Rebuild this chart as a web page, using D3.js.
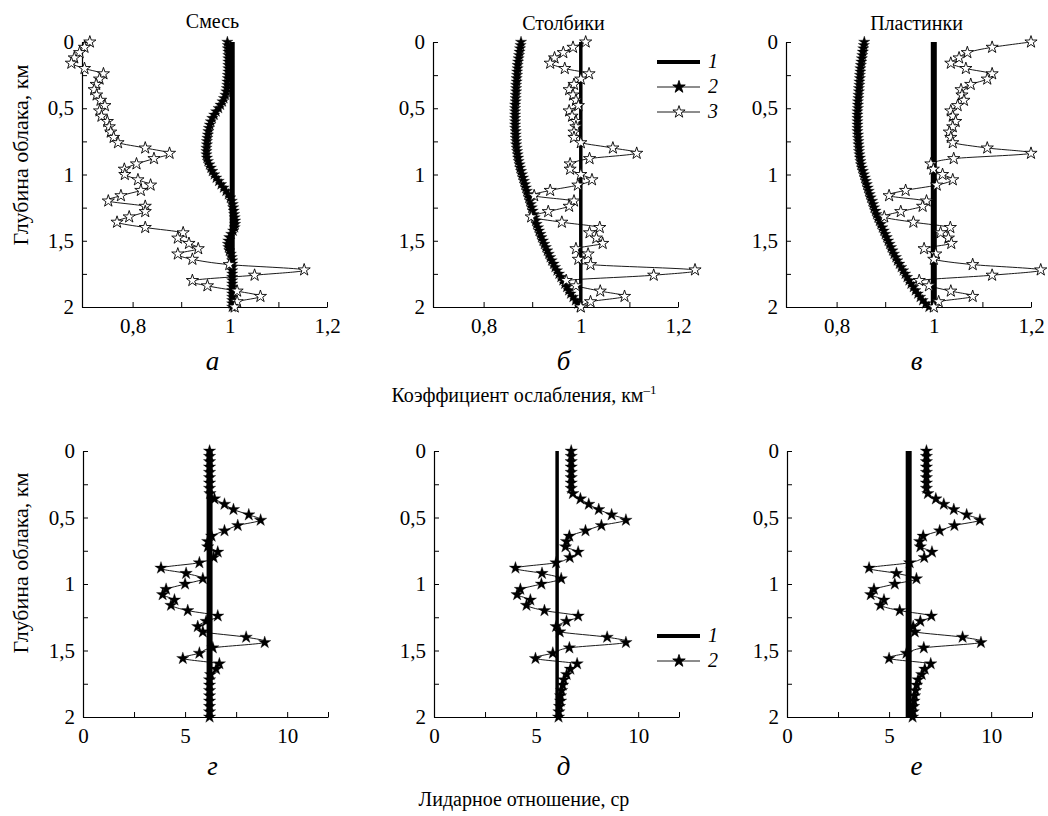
<!DOCTYPE html>
<html>
<head>
<meta charset="utf-8">
<script src="https://cdn.jsdelivr.net/npm/d3@7"></script>
<style>
  body { margin: 0; background: #fff; }
  text { font-family: "Liberation Serif", "Times New Roman", serif; fill: #000; }
</style>
</head>
<body>
<svg id="chart" width="1048" height="816"></svg>
<script>
// depth grids (km)
var depthSparse = [0, 0.04, 0.08, 0.12, 0.16, 0.2, 0.24, 0.28, 0.32, 0.36, 0.4, 0.44, 0.48, 0.52, 0.56, 0.6,
    0.64, 0.68, 0.72, 0.76, 0.8, 0.84, 0.88, 0.92, 0.96, 1, 1.04, 1.08, 1.12, 1.16, 1.2, 1.24, 1.28, 1.32,
    1.36, 1.4, 1.44, 1.48, 1.52, 1.56, 1.6, 1.64, 1.68, 1.72, 1.76, 1.8, 1.84, 1.88, 1.92, 1.96, 2]
var depthDense = [0, 0.025, 0.05, 0.075, 0.1, 0.125, 0.15, 0.175, 0.2, 0.225, 0.25, 0.275, 0.3, 0.325, 0.35,
    0.375, 0.4, 0.425, 0.45, 0.475, 0.5, 0.525, 0.55, 0.575, 0.6, 0.625, 0.65, 0.675, 0.7, 0.725, 0.75, 0.775,
    0.8, 0.825, 0.85, 0.875, 0.9, 0.925, 0.95, 0.975, 1, 1.025, 1.05, 1.075, 1.1, 1.125, 1.15, 1.175, 1.2,
    1.225, 1.25, 1.275, 1.3, 1.325, 1.35, 1.375, 1.4, 1.425, 1.45, 1.475, 1.5, 1.525, 1.55, 1.575, 1.6, 1.625,
    1.65, 1.675, 1.7, 1.725, 1.75, 1.775, 1.8, 1.825, 1.85, 1.875, 1.9, 1.925, 1.95, 1.975, 2]

// extinction coefficient, series 1 (constant)
var ext1 = [1.005, 1.0, 1.0]

// extinction coefficient, series 2 (dense)
var extMix2 = [0.995, 0.996, 0.996, 0.997, 0.997, 0.997, 0.997, 0.997, 0.997, 0.997, 0.996, 0.996, 0.995,
    0.995, 0.994, 0.993, 0.991, 0.988, 0.985, 0.981, 0.977, 0.972, 0.968, 0.964, 0.961, 0.959, 0.957, 0.956,
    0.955, 0.954, 0.953, 0.953, 0.952, 0.952, 0.952, 0.953, 0.955, 0.958, 0.961, 0.964, 0.968, 0.972, 0.977,
    0.982, 0.987, 0.992, 0.997, 1.001, 1.004, 1.006, 1.007, 1.008, 1.009, 1.01, 1.011, 1.011, 1.01, 1.007,
    1.003, 0.999, 0.997, 0.996, 0.997, 0.999, 1.002, 1.004, 1.005, 1.005, 1.005, 1.005, 1.005, 1.005, 1.005,
    1.005, 1.005, 1.005, 1.005, 1.005, 1.005, 1.005, 1.005]
var extCol2 = [0.877, 0.876, 0.875, 0.874, 0.873, 0.872, 0.871, 0.870, 0.870, 0.869, 0.869, 0.868, 0.868,
    0.867, 0.867, 0.867, 0.866, 0.866, 0.866, 0.865, 0.865, 0.865, 0.865, 0.865, 0.865, 0.865, 0.865, 0.866,
    0.866, 0.866, 0.867, 0.867, 0.868, 0.869, 0.870, 0.871, 0.872, 0.874, 0.875, 0.877, 0.879, 0.881, 0.883,
    0.885, 0.887, 0.889, 0.891, 0.893, 0.895, 0.897, 0.899, 0.901, 0.903, 0.905, 0.907, 0.909, 0.912, 0.914,
    0.917, 0.919, 0.922, 0.925, 0.928, 0.931, 0.934, 0.937, 0.94, 0.944, 0.947, 0.951, 0.955, 0.959, 0.963,
    0.967, 0.971, 0.975, 0.979, 0.984, 0.989, 0.994, 0.999]
var extPlate2 = [0.857, 0.856, 0.855, 0.854, 0.853, 0.852, 0.851, 0.850, 0.849, 0.849, 0.848, 0.848, 0.847,
    0.847, 0.846, 0.846, 0.845, 0.845, 0.844, 0.844, 0.844, 0.843, 0.843, 0.843, 0.843, 0.843, 0.843, 0.843,
    0.844, 0.844, 0.845, 0.845, 0.846, 0.846, 0.847, 0.848, 0.849, 0.850, 0.852, 0.854, 0.856, 0.858, 0.860,
    0.862, 0.864, 0.866, 0.868, 0.870, 0.873, 0.875, 0.877, 0.880, 0.882, 0.885, 0.888, 0.891, 0.894, 0.897,
    0.900, 0.903, 0.906, 0.909, 0.912, 0.915, 0.918, 0.922, 0.925, 0.929, 0.933, 0.937, 0.941, 0.945, 0.949,
    0.953, 0.958, 0.962, 0.967, 0.972, 0.977, 0.983, 0.990]

// extinction coefficient, series 3 (sparse)
var extMix3 = [0.712, 0.701, 0.691, 0.680, 0.674, 0.701, 0.740, 0.732, 0.725, 0.721, 0.726, 0.734, 0.743,
    0.732, 0.736, 0.748, 0.752, 0.755, 0.761, 0.770, 0.826, 0.876, 0.844, 0.808, 0.783, 0.784, 0.811, 0.837,
    0.817, 0.776, 0.750, 0.826, 0.826, 0.793, 0.768, 0.826, 0.904, 0.893, 0.916, 0.935, 0.893, 0.923, 0.999,
    1.153, 1.051, 0.923, 0.954, 1.015, 1.063, 1.015, 1.01]
var extCol3 = [1.01, 0.984, 0.964, 0.946, 0.937, 0.967, 1.017, 1.0, 0.986, 0.976, 0.984, 0.99, 0.995, 0.976,
    0.982, 0.99, 0.99, 0.986, 0.986, 1.0, 1.066, 1.115, 1.018, 0.978, 0.978, 1.0, 1.023, 0.994, 0.937, 0.904,
    0.986, 0.976, 0.933, 0.898, 0.961, 1.039, 1.018, 1.032, 1.045, 0.99, 1.015, 0.995, 1.02, 1.235, 1.15, 0.97,
    0.99, 1.04, 1.09, 1.02, 1.0]
var extPlate3 = [1.2, 1.12, 1.069, 1.052, 1.035, 1.066, 1.12, 1.11, 1.076, 1.056, 1.058, 1.062, 1.049, 1.035,
    1.039, 1.045, 1.039, 1.032, 1.035, 1.039, 1.11, 1.2, 1.041, 0.994, 0.999, 1.018, 1.039, 1.006, 0.942, 0.908,
    0.985, 0.977, 0.932, 0.898, 0.958, 1.034, 1.014, 1.03, 1.036, 0.98, 1.004, 1.0, 1.08, 1.22, 1.12, 0.97,
    0.99, 1.035, 1.08, 1.01, 1.0]

// lidar ratio, series 1 (constant)
var lid1 = [6.2, 6.03, 5.96]

// lidar ratio, series 2
var lidMix2 = [6.2, 6.2, 6.2, 6.2, 6.2, 6.2, 6.2, 6.2, 6.22, 6.44, 6.93, 7.37, 8.12, 8.7, 7.58, 6.93, 6.3,
    6.11, 6.11, 6.6, 6.4, 5.7, 3.82, 5.05, 5.87, 5.0, 4.07, 3.9, 4.48, 4.31, 5.13, 6.6, 6.03, 5.62, 5.87, 7.99,
    8.9, 6.36, 5.7, 4.89, 6.68, 6.52, 6.25, 6.2, 6.2, 6.2, 6.2, 6.2, 6.2, 6.2, 6.2]
var lidCol2 = [6.72, 6.72, 6.72, 6.72, 6.72, 6.72, 6.72, 6.72, 6.8, 7.17, 7.58, 8.07, 8.7, 9.4, 8.2, 7.42,
    6.63, 6.49, 6.44, 7.06, 6.65, 5.98, 3.99, 5.29, 6.23, 5.26, 4.23, 4.07, 4.72, 4.53, 5.41, 7.06, 6.49, 5.98,
    6.16, 8.48, 9.4, 6.63, 5.82, 4.97, 7.01, 6.68, 6.5, 6.36, 6.3, 6.25, 6.2, 6.2, 6.15, 6.12, 6.1]
var lidPlate2 = [6.83, 6.83, 6.83, 6.83, 6.83, 6.83, 6.83, 6.83, 6.9, 7.29, 7.68, 8.17, 8.8, 9.45, 8.2, 7.48,
    6.67, 6.5, 6.53, 7.1, 6.72, 6.01, 4.02, 5.36, 6.34, 5.28, 4.26, 4.1, 4.75, 4.57, 5.52, 7.07, 6.53, 6.18,
    6.26, 8.6, 9.5, 6.7, 5.85, 5.0, 7.04, 6.75, 6.6, 6.42, 6.35, 6.3, 6.25, 6.22, 6.2, 6.18, 6.15]

var titles = ["Смесь", "Столбики", "Пластинки"]
var lettersTop = ["а", "б", "в"]
var lettersBottom = ["г", "д", "е"]
var extTicks = [0.8, 0.9, 1, 1.1, 1.2]
var extLabels = [0.8, 1, 1.2]
var lidTicks = [0, 2.5, 5, 7.5, 10, 12]
var lidLabels = [0, 5, 10]
var depthTicks = [0, 0.25, 0.5, 0.75, 1, 1.25, 1.5, 1.75, 2]
var depthLabels = [0, 0.5, 1, 1.5, 2]

var svg = d3.select("#chart")
var comma = function(v) { return String(v).replace(".", ",") }

var lefts = [84, 435, 788]
var W = 243

var yTop = d3.scaleLinear().domain([0, 2]).range([42, 307])
var yBot = d3.scaleLinear().domain([0, 2]).range([451, 717])

var starFill = d3.symbol(d3.symbolStar, 40)()
var starBig = d3.symbol(d3.symbolStar, 48)()
var starHollow = d3.symbol(d3.symbolStar, 46)()

function drawAxes(g, x, y, ticks, labels, bottomY, left) {
    g.append("g")
        .attr("transform", "translate(0," + bottomY + ")")
        .call(d3.axisBottom(x).tickValues(ticks).tickSizeInner(-5).tickSizeOuter(0).tickPadding(11)
            .tickFormat(function(v) { return labels.indexOf(v) >= 0 ? comma(v) : "" }))
        .call(styleAxis)
    g.append("g")
        .attr("transform", "translate(" + left + ",0)")
        .call(d3.axisLeft(y).tickValues(depthTicks).tickSizeInner(-5).tickSizeOuter(0).tickPadding(8)
            .tickFormat(function(v) { return depthLabels.indexOf(v) >= 0 ? comma(v) : "" }))
        .call(styleAxis)
}

function styleAxis(a) {
    a.attr("font-family", null)
    a.select(".domain").attr("stroke", "#000").attr("stroke-width", 1.2)
    a.selectAll(".tick line").attr("stroke", "#000").attr("stroke-width", 1)
    a.selectAll(".tick text").attr("font-size", 21)
}

function series(g, x, y, depth, vals, sym, hollow) {
    var pts = depth.map(function(d, i) { return [x(vals[i]), y(d)] })
    g.append("path")
        .attr("d", d3.line().curve(d3.curveCardinal.tension(0))(pts))
        .attr("fill", "none")
        .attr("stroke", "#000")
        .attr("stroke-width", 0.9)
    g.selectAll(null)
        .data(pts)
        .enter()
        .append("path")
        .attr("d", sym)
        .attr("transform", function(p) { return "translate(" + p[0] + "," + p[1] + ")" })
        .attr("fill", hollow ? "#fff" : "#000")
        .attr("stroke", "#000")
        .attr("stroke-width", hollow ? 0.9 : 0.3)
}

function constLine(g, x, y, v, w) {
    g.append("line")
        .attr("x1", x(v)).attr("x2", x(v))
        .attr("y1", y(0)).attr("y2", y(2))
        .attr("stroke", "#000")
        .attr("stroke-width", w)
}

var ext2 = [extMix2, extCol2, extPlate2]
var ext3 = [extMix3, extCol3, extPlate3]
var lid2 = [lidMix2, lidCol2, lidPlate2]
var thickTop = [5, 3.5, 6]
var thickBot = [6, 3.5, 6]

//Top row: extinction coefficient
lefts.forEach(function(L, k) {
    var g = svg.append("g")
    var x = d3.scaleLinear().domain([0.7, 1.2]).range([L, L + W])
    drawAxes(g, x, yTop, extTicks, extLabels, 307, L - 2)
    constLine(g, x, yTop, ext1[k], thickTop[k])
    series(g, x, yTop, depthDense, ext2[k], starFill, false)
    series(g, x, yTop, depthSparse, ext3[k], starHollow, true)

    g.append("text")
        .attr("x", L + W / 2 + 7)
        .attr("y", k == 0 ? 28 : 30)
        .attr("text-anchor", "middle")
        .attr("font-size", 20)
        .text(titles[k])
    g.append("text")
        .attr("x", L + W / 2 + 7)
        .attr("y", 370)
        .attr("text-anchor", "middle")
        .attr("font-size", 27)
        .attr("font-style", "italic")
        .text(lettersTop[k])
})

//Bottom row: lidar ratio
lefts.forEach(function(L, k) {
    var g = svg.append("g")
    var x = d3.scaleLinear().domain([0, 12]).range([L - 1, L + W + 1])
    drawAxes(g, x, yBot, lidTicks, lidLabels, 717, L - 1)
    constLine(g, x, yBot, lid1[k], thickBot[k])
    series(g, x, yBot, depthSparse, lid2[k], starBig, false)

    g.append("text")
        .attr("x", L + W / 2 + 7)
        .attr("y", 775)
        .attr("text-anchor", "middle")
        .attr("font-size", 27)
        .attr("font-style", "italic")
        .text(lettersBottom[k])
})

// axis titles
svg.append("text")
    .attr("x", 524).attr("y", 402)
    .attr("text-anchor", "middle")
    .attr("font-size", 20)
    .text("Коэффициент ослабления, км")
    .append("tspan")
    .attr("font-size", 13)
    .attr("dy", -8)
    .text("–1")
svg.append("text")
    .attr("x", 524).attr("y", 806)
    .attr("text-anchor", "middle")
    .attr("font-size", 20)
    .text("Лидарное отношение, ср")

;[155, 563].forEach(function(cy) {
    svg.append("text")
        .attr("transform", "translate(28," + cy + ") rotate(-90)")
        .attr("text-anchor", "middle")
        .attr("font-size", 22)
        .text("Глубина облака, км")
})

// legends
function legend(rows, y0) {
    var lg = svg.append("g")
    rows.forEach(function(r, i) {
        var yy = y0 + i * 25
        lg.append("line")
            .attr("x1", 657).attr("x2", 700)
            .attr("y1", yy).attr("y2", yy)
            .attr("stroke", "#000")
            .attr("stroke-width", r == "1" ? 4 : 0.9)
        if (r == "2" || r == "3") {
            lg.append("path")
                .attr("d", r == "2" ? starBig : starHollow)
                .attr("transform", "translate(679," + yy + ")")
                .attr("fill", r == "2" ? "#000" : "#fff")
                .attr("stroke", "#000")
                .attr("stroke-width", 0.9)
        }
        lg.append("text")
            .attr("x", 708).attr("y", yy + 6)
            .attr("font-size", 20)
            .attr("font-style", "italic")
            .text(r)
    })
}
legend(["1", "2", "3"], 62)
legend(["1", "2"], 636)
</script>
</body>
</html>
